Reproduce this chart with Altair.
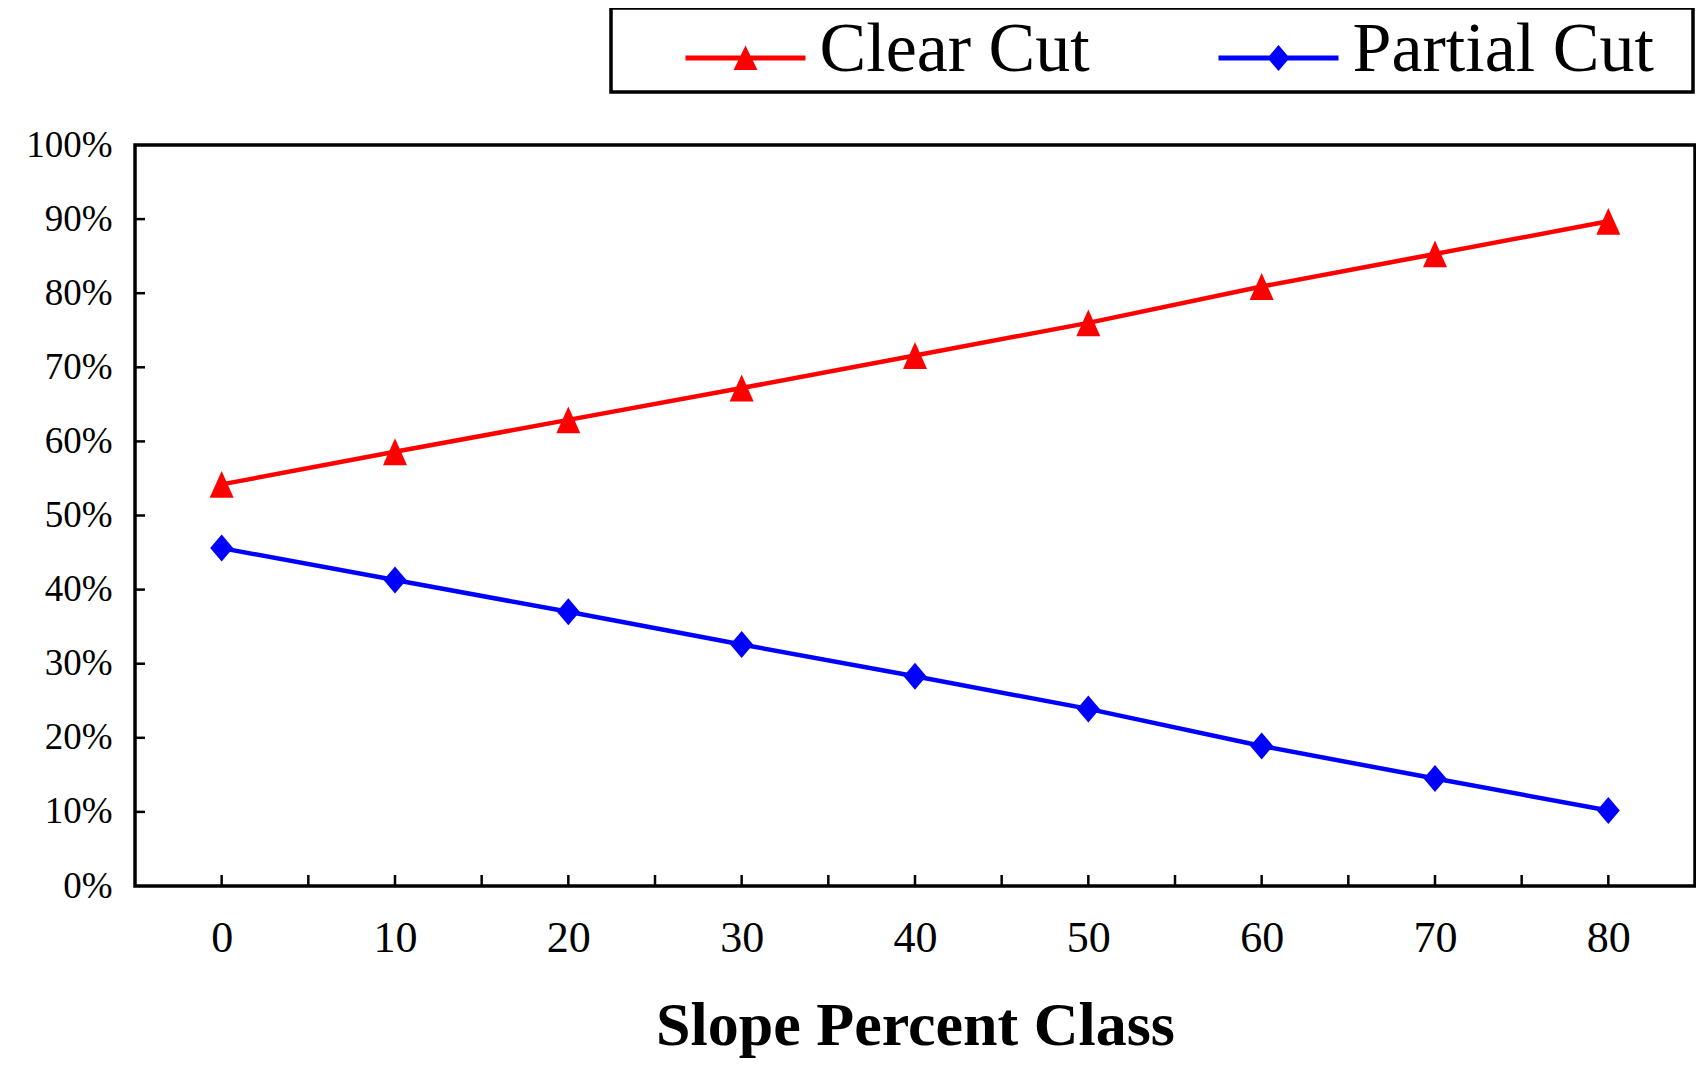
import altair as alt
import pandas as pd

# ---- data ----
slope = [0, 10, 20, 30, 40, 50, 60, 70, 80]
clear_cut = [54.2, 58.6, 62.9, 67.2, 71.6, 76.0, 80.9, 85.3, 89.7]
partial_cut = [45.6, 41.3, 37.0, 32.6, 28.3, 23.9, 18.9, 14.5, 10.2]
series = ["Clear Cut", "Partial Cut"]
colors = ["#FF0000", "#0000FF"]
x_label_values = [0, 10, 20, 30, 40, 50, 60, 70, 80]
x_tick_values = [0, 5, 10, 15, 20, 25, 30, 35, 40, 45, 50, 55, 60, 65, 70, 75, 80]
y_label_values = [0, 0.1, 0.2, 0.3, 0.4, 0.5, 0.6, 0.7, 0.8, 0.9, 1.0]
y_tick_values = [0.1, 0.2, 0.3, 0.4, 0.5, 0.6, 0.7, 0.8, 0.9]

W, H = 1560, 741
FONT = "Liberation Serif"

df = pd.DataFrame({
    "slope": slope + slope,
    "share": [v / 100 for v in clear_cut] + [v / 100 for v in partial_cut],
    "series": [series[0]] * len(slope) + [series[1]] * len(slope),
})

x_scale = alt.Scale(domain=[-5, 85], nice=False, zero=False)
y_scale = alt.Scale(domain=[0, 1], nice=False)

x_axis = alt.Axis(values=x_label_values, format="d", grid=False, ticks=False, tickSize=0,
                  domain=False, labelFont=FONT, labelFontSize=44, labelColor="black",
                  labelPadding=30, labelFlush=False, labelOverlap=False,
                  title="Slope Percent Class", titleFont=FONT, titleFontSize=62,
                  titleFontWeight="bold", titleColor="black", titlePadding=35)
y_axis = alt.Axis(values=y_label_values, format=".0%", grid=False, ticks=False, tickSize=0,
                  domain=False, labelFont=FONT, labelFontSize=37, labelColor="black",
                  labelPadding=23, labelFlush=False, labelOverlap=False, title=None)

X = alt.X("slope:Q", scale=x_scale, axis=x_axis)
Y = alt.Y("share:Q", scale=y_scale, axis=y_axis)

base = alt.Chart(df)

marker_paths = ["M0,-1.12L1,1.12L-1,1.12Z", "M0,-1L0.85,0L0,1L-0.85,0Z"]
marker_sizes = [576, 729]

layers = []
for i, s in enumerate(series):
    layers.append(
        base.transform_filter(alt.datum.series == s)
        .mark_line(color=colors[i], strokeWidth=4.5)
        .encode(x=X, y=Y)
    )
for i, s in enumerate(series):
    layers.append(
        base.transform_filter(alt.datum.series == s)
        .mark_point(filled=True, opacity=1, shape=marker_paths[i], size=marker_sizes[i],
                    color=colors[i], strokeWidth=0)
        .encode(x=X, y=Y)
    )

# inward tick marks
xticks = alt.Chart(pd.DataFrame({"slope": x_tick_values})).mark_rule(
    color="black", strokeWidth=2.5).encode(x=X, y=alt.value(H), y2=alt.value(H - 11))
yticks = alt.Chart(pd.DataFrame({"share": y_tick_values})).mark_rule(
    color="black", strokeWidth=2.5).encode(y=Y, x=alt.value(0), x2=alt.value(10))
layers += [xticks, yticks]

# legend (line + marker symbols); 1 unit = 30 px
legend_paths = [
    "M-4.25,0Z M-2,0.187H2V0.347H-2Z M0,-0.153L0.4,0.667H-0.4Z",
    "M-4.25,0Z M13.57,0Z M-2,0.187H2V0.347H-2Z M0,-0.163L0.37,0.267L0,0.697L-0.37,0.267Z",
]
leg = alt.Legend(title=None, orient="none", legendX=476, legendY=-137, direction="horizontal",
                 symbolSize=3600, symbolStrokeWidth=0, symbolOpacity=1, symbolOffset=92.5,
                 labelFont=FONT, labelFontSize=70, labelColor="black", labelOffset=39,
                 labelLimit=600, columnPadding=61, padding=7,
                 strokeColor="black", fillColor="white")
legend_layer = base.transform_filter("false").mark_point(
    filled=True, opacity=1, size=3600, strokeWidth=0).encode(
    x=X, y=Y,
    color=alt.Color("series:N", scale=alt.Scale(domain=series, range=colors), legend=leg),
    shape=alt.Shape("series:N", scale=alt.Scale(domain=series, range=legend_paths), legend=leg),
)
layers.append(legend_layer)

chart = alt.layer(*layers).properties(
    width=W, height=H,
    autosize=alt.AutoSizeParams(type="none"),
    padding={"left": 127, "top": 137, "right": 1, "bottom": 177},
    background="white",
).configure_view(stroke="black", strokeWidth=3.5).configure_legend(strokeWidth=3.5)

chart.save("out.html", embed_options={"renderer": "svg", "actions": False})
